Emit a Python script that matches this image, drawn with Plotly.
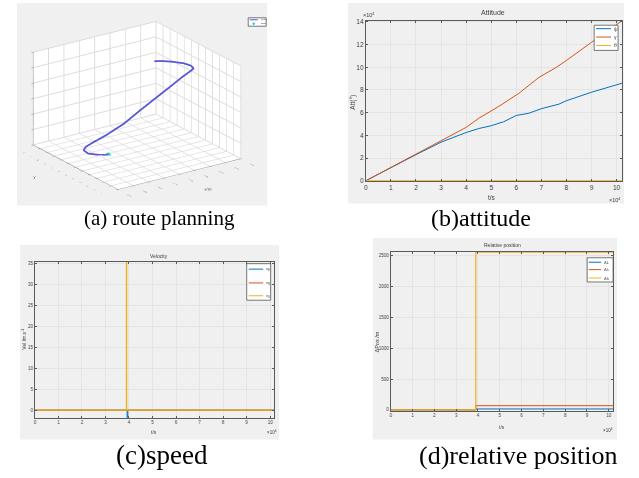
import plotly.graph_objects as go

W, H = 639, 478
def px(x): return x / W
def py(y): return 1 - y / H

# ---------------- (a) route planning (3D) ----------------
route_x = [101904.6, 101900.0, 101896.0, 101895.2, 101897.6, 101902.2, 101908.8, 101916.0,
           101922.6, 101929.6, 101936.0, 101941.6, 101945.6, 101947.5, 101948.0, 101946.4,
           101942.4, 101938.4, 101935.2]
route_y = [0.674, 0.720, 0.768, 0.816, 0.840, 0.844, 0.792, 0.696, 0.611, 0.540, 0.480,
           0.432, 0.402, 0.396, 0.444, 0.516, 0.600, 0.660, 0.685]
route_z = [0, 10, 40, 100, 150, 220, 450, 850, 1300, 1700, 2050, 2350, 2530, 2600,
           2630, 2640, 2640, 2640, 2640]
start_x = [101904.6]
start_y = [0.674]
start_z = [0]

# ---------------- (b) attitude ----------------
att_t_psi = [0, 10000, 20000, 30000, 40000, 45000, 50000, 55000, 60000, 65000, 70000,
             77000, 80000, 90000, 102200]
att_psi = [0, 11800, 23000, 34000, 42500, 46000, 48500, 52000, 57500, 59500, 63500,
           67500, 70500, 78000, 86000]
att_t_gam = [0, 10000, 20000, 30000, 40000, 45000, 53000, 61000, 69000, 76000, 80000,
             90000, 102200]
att_gam = [0, 11900, 23500, 35000, 47000, 55000, 65500, 77000, 91000, 100000, 106000,
           122000, 141000]
att_t_the = [0, 102200]
att_the = [0, 0]

# ---------------- (c) velocity ----------------
vel_t_e = [0, 39200, 39200, 39500, 39500, 101700]
vel_e = [0, 0, -3, -3, 0, 0]
vel_t_n = [0, 101700]
vel_n = [0, 0]
vel_t_u = [0, 38900, 38900, 39000, 39000, 101700]
vel_u = [0, 0, 40, 40, 0, 0]

# ---------------- (d) relative position ----------------
pos_t = [0, 39000, 39000, 102000]
pos_L = [0, 0, 15, 15]
pos_lam = [0, 0, 68, 68]
pos_h = [0, 0, 2556, 2556]

route_names = ["route", "start"]
att_names = ["ψ", "γ", "θ"]
vel_names = ["v<sub>E</sub>", "v<sub>N</sub>", "v<sub>U</sub>"]
pos_names = ["ΔL", "Δλ", "Δh"]

C_BLUE, C_RED, C_YEL = "#0072BD", "#D95319", "#EDB120"
C_ROUTE, C_START = "#5555d8", "#22cccc"
GRID = "#e4e4e4"
AX = "#5a5a5a"
TXT = "#404040"

fig = go.Figure()

# 3D route
fig.add_trace(go.Scatter3d(x=route_x, y=route_y, z=route_z, mode="lines",
                           line=dict(color=C_ROUTE, width=3.5), name=route_names[0], scene="scene"))
fig.add_trace(go.Scatter3d(x=start_x, y=start_y, z=start_z, mode="markers",
                           marker=dict(color=C_START, size=3), name=route_names[1], scene="scene"))

# attitude
fig.add_trace(go.Scatter(x=att_t_psi, y=att_psi, mode="lines", line=dict(color=C_BLUE, width=1),
                         name=att_names[0], xaxis="x", yaxis="y"))
fig.add_trace(go.Scatter(x=att_t_gam, y=att_gam, mode="lines", line=dict(color=C_RED, width=1),
                         name=att_names[1], xaxis="x", yaxis="y"))
fig.add_trace(go.Scatter(x=att_t_the, y=att_the, mode="lines", line=dict(color=C_YEL, width=1.5),
                         name=att_names[2], xaxis="x", yaxis="y"))

# velocity
fig.add_trace(go.Scatter(x=vel_t_e, y=vel_e, mode="lines", line=dict(color=C_BLUE, width=1),
                         name=vel_names[0], xaxis="x2", yaxis="y2"))
fig.add_trace(go.Scatter(x=vel_t_n, y=vel_n, mode="lines", line=dict(color=C_RED, width=1),
                         name=vel_names[1], xaxis="x2", yaxis="y2"))
fig.add_trace(go.Scatter(x=vel_t_u, y=vel_u, mode="lines", line=dict(color=C_YEL, width=1.2),
                         name=vel_names[2], xaxis="x2", yaxis="y2"))

# relative position
fig.add_trace(go.Scatter(x=pos_t, y=pos_L, mode="lines", line=dict(color=C_BLUE, width=1),
                         name=pos_names[0], xaxis="x3", yaxis="y3"))
fig.add_trace(go.Scatter(x=pos_t, y=pos_lam, mode="lines", line=dict(color=C_RED, width=1),
                         name=pos_names[1], xaxis="x3", yaxis="y3"))
fig.add_trace(go.Scatter(x=pos_t, y=pos_h, mode="lines", line=dict(color=C_YEL, width=1.2),
                         name=pos_names[2], xaxis="x3", yaxis="y3"))

t_vals = [i * 10000 for i in range(11)]
t_text = [str(i) for i in range(11)]

def cart_axis(domain, rng, fs, **kw):
    d = dict(domain=domain, range=rng, showgrid=True, gridcolor=GRID, gridwidth=1,
             showline=True, linecolor=AX, linewidth=1, mirror="ticks", ticks="inside",
             ticklen=2, tickcolor=AX, tickfont=dict(size=fs, color=TXT, family="Arial"),
             zeroline=False, fixedrange=True)
    d.update(kw)
    return d

# plot-area pixel boxes
b_box = (365, 622, 18, 180)
c_box = (33, 273, 262, 420)
d_box = (390, 613, 252, 413)

def dom(box):
    x0, x1, y0, y1 = box
    return [px(x0), px(x1)], [py(y1), py(y0)]

bx, by = dom(b_box)
cx, cy = dom(c_box)
dx, dy = dom(d_box)

shapes = []
for (x0, x1, y0, y1) in [(15, 266, 0, 205), (347, 624, 0, 203), (18, 278, 245, 442), (372, 617, 238, 442)]:
    shapes.append(dict(type="rect", xref="paper", yref="paper", x0=px(x0), x1=px(x1),
                       y0=py(y1), y1=py(y0), fillcolor="#f0f0f0", line=dict(width=0),
                       layer="below"))

def ann(text, x, y, size, angle=0, family="Arial", color=TXT, xanchor="center"):
    return dict(text=text, x=px(x), y=py(y), xref="paper", yref="paper", showarrow=False,
                font=dict(size=size, family=family, color=color), textangle=angle,
                xanchor=xanchor, yanchor="middle")

SERIF = "Liberation Serif"
annotations = [
    ann("(a) route planning", 158, 218, 21, family=SERIF, color="#000"),
    ann("(b)attitude", 481, 218, 24, family=SERIF, color="#000"),
    ann("(c)speed", 161, 458, 27, family=SERIF, color="#000"),
    ann("(d)relative position", 518, 458, 26, family=SERIF, color="#000"),
    # (b)
    ann("Attitude", 493, 10, 7),
    ann("t/s", 492, 197, 6.5),
    ann("Att(°)", 352, 100, 6.5, angle=-90),
    ann("×10<sup>4</sup>", 368, 12, 5.5),
    ann("×10<sup>4</sup>", 615, 199, 5.5),
    # (c)
    ann("Velocity", 157, 256, 5),
    ann("t/s", 152, 434, 5),
    ann("Vel /m.s<sup>-1</sup>", 22, 340, 5, angle=-90),
    ann("×10<sup>4</sup>", 271, 434, 4.5),
    # (d)
    ann("Relative position", 502, 245, 5),
    ann("t/s", 502, 429, 5),
    ann("ΔPos /m", 376, 343, 5.5, angle=-90),
    ann("×10<sup>4</sup>", 608, 432, 4.5),
]

# hand-drawn MATLAB-style legend boxes (paper coordinates, pixels)
def add_legend(box, rows, line_x, text_x, names, colors, fs, markers=None):
    x0, x1, y0, y1 = box
    shapes.append(dict(type="rect", xref="paper", yref="paper", x0=px(x0), x1=px(x1),
                       y0=py(y1), y1=py(y0), fillcolor="white", line=dict(color="#555", width=0.8),
                       layer="above"))
    for i, (yy, nm, col) in enumerate(zip(rows, names, colors)):
        if markers and markers[i]:
            cxp = (line_x[0] + line_x[1]) / 2
            shapes.append(dict(type="circle", xref="paper", yref="paper",
                               x0=px(cxp - 1.2), x1=px(cxp + 1.2), y0=py(yy + 1.2), y1=py(yy - 1.2),
                               fillcolor=col, line=dict(width=0), layer="above"))
        else:
            shapes.append(dict(type="line", xref="paper", yref="paper", x0=px(line_x[0]),
                               x1=px(line_x[1]), y0=py(yy), y1=py(yy),
                               line=dict(color=col, width=1), layer="above"))
        annotations.append(ann(nm, text_x, yy, fs, xanchor="left"))

add_legend((247, 265, 15, 23.5), [17, 21], (248.5, 256.5), 258, route_names,
           [C_ROUTE, C_START], 2.5, markers=[False, True])
add_legend((594, 618, 22.5, 48), [26, 34.5, 43], (596, 611), 611.5, att_names,
           [C_BLUE, C_RED, C_YEL], 5)
add_legend((245.5, 269.5, 264, 301), [269.5, 283.5, 296.5], (247.5, 262), 262.5, vel_names,
           [C_BLUE, C_RED, C_YEL], 4)
add_legend((587, 613, 258, 282.5), [262.5, 270, 278.5], (588.5, 601), 602, pos_names,
           [C_BLUE, C_RED, C_YEL], 4)

axis3d = dict(showbackground=True, backgroundcolor="white", gridcolor="#dcdcdc",
              showline=True, linecolor="#777", tickfont=dict(size=4, color="#555"),
              zeroline=False, showspikes=False, ticks="outside", ticklen=2, tickcolor="#777")

fig.update_layout(
    width=W, height=H, margin=dict(l=0, r=0, t=0, b=0),
    paper_bgcolor="white", plot_bgcolor="white", showlegend=False,
    shapes=shapes, annotations=annotations,
    xaxis=cart_axis(bx, [0, 102200], 6.5, anchor="y", tickvals=t_vals, ticktext=t_text),
    yaxis=cart_axis(by, [0, 141000], 6.5, anchor="x", tickvals=[i * 20000 for i in range(8)],
                    ticktext=[str(2 * i) for i in range(8)]),
    xaxis2=cart_axis(cx, [0, 101700], 4.5, anchor="y2", tickvals=t_vals, ticktext=t_text),
    yaxis2=cart_axis(cy, [-1.8, 35.5], 4.5, anchor="x2", tickvals=[0, 5, 10, 15, 20, 25, 30, 35]),
    xaxis3=cart_axis(dx, [0, 102000], 4.5, anchor="y3", tickvals=t_vals, ticktext=t_text),
    yaxis3=cart_axis(dy, [-15, 2560], 4.5, anchor="x3", tickvals=[0, 500, 1000, 1500, 2000, 2500]),
    scene=dict(
        domain=dict(x=[px(18), px(253)], y=[py(205), py(3)]),
        bgcolor="rgba(0,0,0,0)",
        xaxis=dict(axis3d, range=[101880, 101960], dtick=10, title=dict(text="x/m", font=dict(size=4))),
        yaxis=dict(axis3d, range=[0, 1.2], dtick=0.1, title=dict(text="y", font=dict(size=4))),
        zaxis=dict(axis3d, range=[0, 3000], dtick=500, title=dict(text="h/m", font=dict(size=4))),
        aspectmode="manual", aspectratio=dict(x=1.5, y=1.5, z=1),
        camera=dict(eye=dict(x=-1.18, y=-1.71, z=0.81), up=dict(x=0, y=0, z=1),
                    center=dict(x=0, y=0, z=0), projection=dict(type="orthographic")),
    ),
)

fig.write_html("out.html", post_script="document.body.style.margin='0';",
               config={"displayModeBar": False})
